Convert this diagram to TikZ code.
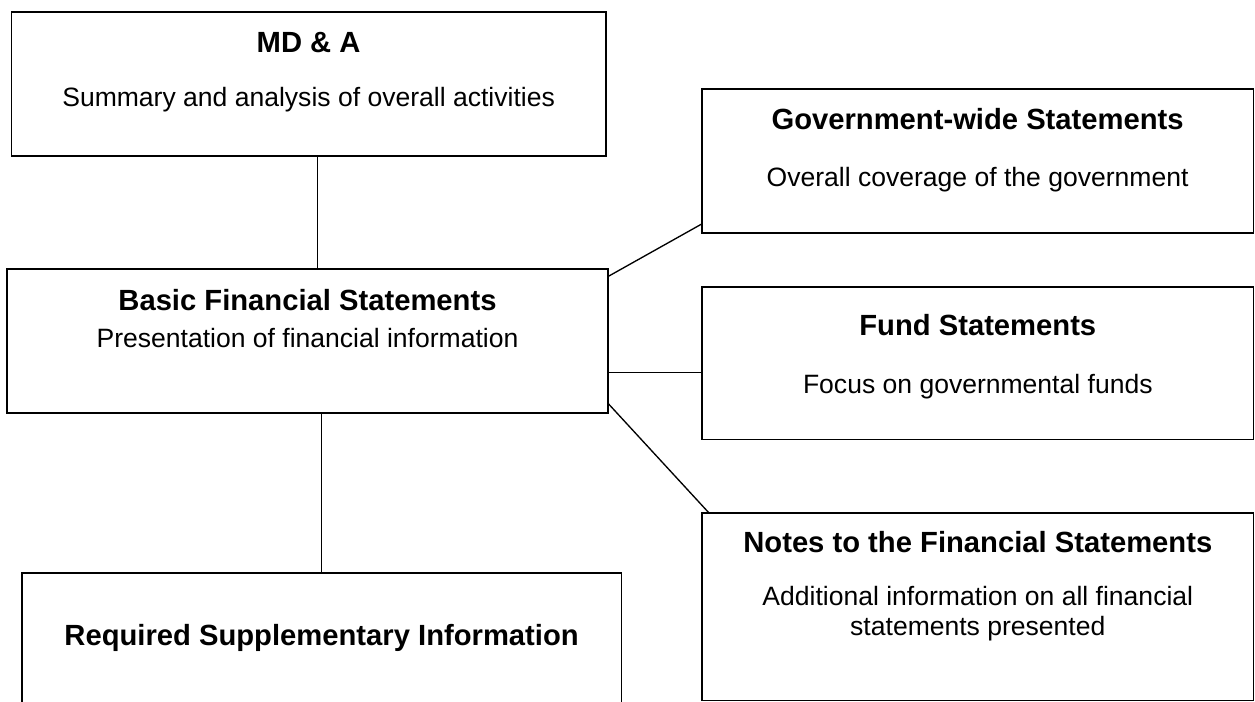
\documentclass[tikz,border=0pt]{standalone}
\usepackage{fontspec}
\setmainfont{Liberation Sans}
\begin{document}
\begin{tikzpicture}[x=0.75pt,y=-0.75pt,
  box/.style={draw=black, line width=1.35pt, inner sep=0pt, outer sep=0pt, anchor=north west},
  link/.style={draw=black, line width=1pt},
  ttl/.style={font=\fontsize{21.9}{26}\selectfont\bfseries, inner sep=0pt},
  sub/.style={font=\fontsize{19.9}{22.5}\selectfont, inner sep=0pt, align=center}]
\useasboundingbox (0,0) rectangle (1255,702);
\clip (0,0) rectangle (1255,702);
% boxes
\node[box, minimum width=445.65pt, minimum height=108pt] (mda) at (11.5,11.7) {};
\node[box, minimum width=450.3pt, minimum height=107.55pt] (basic) at (7.3,269.3) {};
\node[box, minimum width=413.85pt, minimum height=108pt] (gov) at (701.7,89.3) {};
\node[box, minimum width=413.6pt, minimum height=114.15pt] (fund) at (702,287.3) {};
\node[box, minimum width=413.6pt, minimum height=140.4pt] (notes) at (702,513.3) {};
\node[box, minimum width=449.85pt, minimum height=112.5pt] (rsi) at (21.7,572.7) {};
% texts
\node[ttl] (mdat) at (308.6,43) {MD \& A};
\node[sub] (mdas) at (308.6,100) {Summary and analysis of overall activities};
\node[ttl] (basict) at (307.5,300) {Basic Financial Statements};
\node[sub] (basics) at (307.5,338) {Presentation of financial information};
\node[ttl] (govt) at (977.6,119) {Government-wide Statements};
\node[sub] (govs) at (977.6,180) {Overall coverage of the government};
\node[ttl] (fundt) at (977.8,325) {Fund Statements};
\node[sub] (funds) at (977.8,387) {Focus on governmental funds};
\node[ttl] (notest) at (977.8,542) {Notes to the Financial Statements};
\node[sub] (notess) at (977.8,614) {Additional information on all financial\\statements presented};
\node[ttl] (rsit) at (321.6,638) {Required Supplementary Information};
% helper coordinates
\coordinate (c1) at (317.5,0);
\coordinate (c2) at (321.7,0);
\coordinate (g1) at (0,276.7);
\coordinate (g2) at (0,224);
\coordinate (f1) at (0,372.7);
\coordinate (n1) at (0,403);
\coordinate (n2) at (709.3,0);
% connectors
\draw[link] (mda.south -| c1) -- (basic.north -| c1);
\draw[link] (basic.south -| c2) -- (rsi.north -| c2);
\draw[link] (basic.east |- g1) -- (gov.west |- g2);
\draw[link] (basic.east |- f1) -- (fund.west |- f1);
\draw[link] (basic.east |- n1) -- (notes.north -| n2);
\end{tikzpicture}
\end{document}
